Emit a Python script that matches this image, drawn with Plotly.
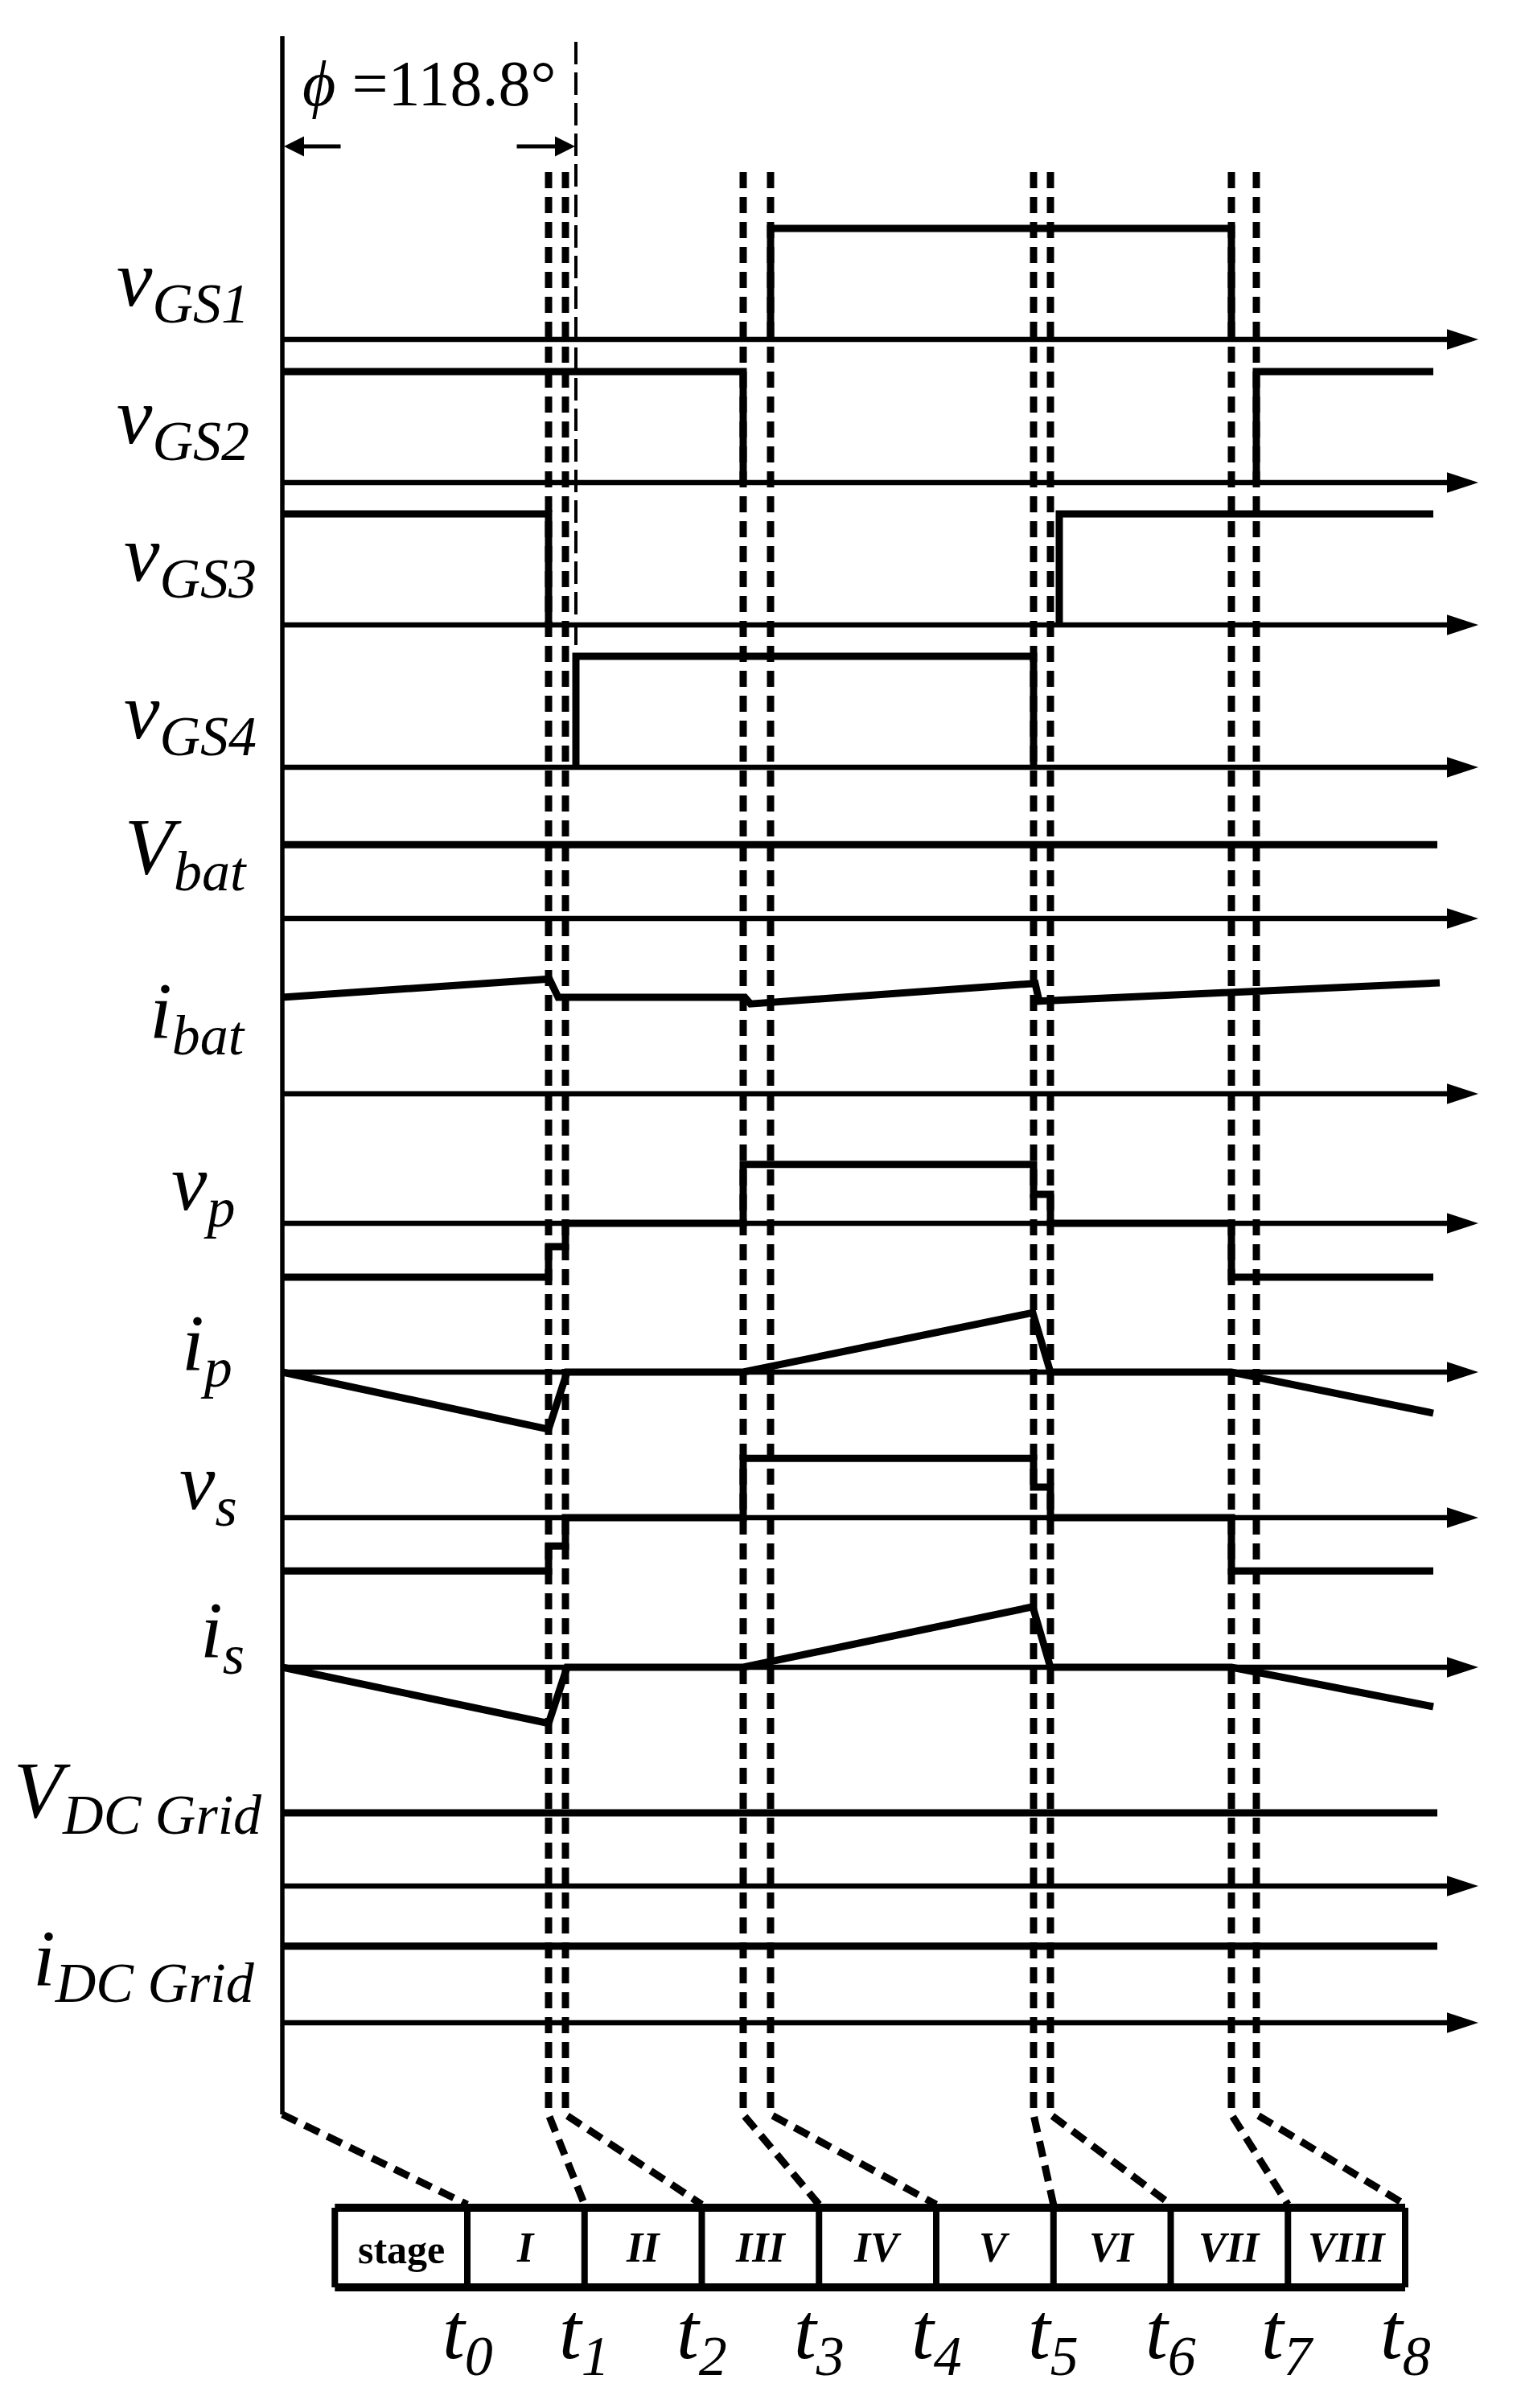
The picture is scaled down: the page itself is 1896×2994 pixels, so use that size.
import plotly.graph_objects as go

# ---------------- chart values ----------------
# time axis in arbitrary units, t = 0 at the vertical axis
T_AXIS_END = 1487      # tip of every time arrow

# switching instants marked by the thick dashed lines (feed t1 .. t8)
t_dashed = [331, 352, 573, 607, 934, 955, 1180, 1211]
t_phi = 365            # phase-shift marker (thin dashed line)
phi_text = " =118.8°"

# gate signals: low level coincides with the axis (None = pen up)
vgs1_t = [607, 607, 1180, 1180]
vgs1_v = [0, 2, 2, 0]
vgs2_t = [0, 573, 573, None, 1211, 1211, 1431]
vgs2_v = [2, 2, 0, None, 0, 2, 2]
vgs3_t = [0, 331, 331, None, 966, 966, 1431]
vgs3_v = [2, 2, 0, None, 0, 2, 2]
vgs4_t = [365, 365, 934, 934]
vgs4_v = [0, 2, 2, 0]

vbat_t = [0, 1436]
vbat_v = [1.33, 1.33]
ibat_t = [0, 332, 343, 575, 582, 936, 941, 1439]
ibat_v = [1.74, 2.07, 1.74, 1.74, 1.62, 1.99, 1.67, 2.00]

vp_t = [0, 331, 331, 352, 352, 573, 573, 934, 934, 955, 955, 1180, 1180, 1431]
vp_v = [-0.97, -0.97, -0.42, -0.42, 0, 0, 1.06, 1.06, 0.52, 0.52, 0, 0, -0.97, -0.97]
ip_t = [0, 331, 354, 573, 933, 955, 1180, 1431]
ip_v = [0, -1.03, 0, 0, 1.07, 0, 0, -0.74]
vs_t = [0, 331, 331, 352, 352, 573, 573, 934, 934, 955, 955, 1180, 1180, 1431]
vs_v = [-0.96, -0.96, -0.51, -0.51, 0, 0, 1.07, 1.07, 0.55, 0.55, 0, 0, -0.96, -0.96]
is_t = [0, 331, 354, 573, 933, 955, 1180, 1431]
is_v = [0, -1.01, 0, 0, 1.09, 0, 0, -0.71]

vdc_t = [0, 1436]
vdc_v = [1.32, 1.32]
idc_t = [0, 1436]
idc_v = [1.38, 1.38]

row_labels = [
    "<i>v</i><sub><i>GS1</i></sub>",
    "<i>v</i><sub><i>GS2</i></sub>",
    "<i>v</i><sub><i>GS3</i></sub>",
    "<i>v</i><sub><i>GS4</i></sub>",
    "<i>V</i><sub><i>bat</i></sub>",
    "<i>i</i><sub><i>bat</i></sub>",
    "<i>v</i><sub><i>p</i></sub>",
    "<i>i</i><sub><i>p</i></sub>",
    "<i>v</i><sub><i>s</i></sub>",
    "<i>i</i><sub><i>s</i></sub>",
    "<i>V</i><sub><i>DC Grid</i></sub>",
    "<i>i</i><sub><i>DC Grid</i></sub>",
]
row_series = [
    (vgs1_t, vgs1_v), (vgs2_t, vgs2_v), (vgs3_t, vgs3_v), (vgs4_t, vgs4_v),
    (vbat_t, vbat_v), (ibat_t, ibat_v), (vp_t, vp_v), (ip_t, ip_v),
    (vs_t, vs_v), (is_t, is_v), (vdc_t, vdc_v), (idc_t, idc_v),
]
stage_names = ["I", "II", "III", "IV", "V", "VI", "VII", "VIII"]
stage_header = "stage"
t_names = [f"<i>t<sub>{k}</sub></i>" for k in range(9)]

# ---------------- layout constants ----------------
W, H = 1896, 2994
FONT = "Liberation Serif, Times New Roman, serif"
X_ORIGIN_PX = 351
Y_UNIT_PX = 69
ROW_SPAN = 2.5
ROW_BASE_PX = [422, 600, 777, 954, 1142, 1360, 1521, 1706, 1887, 2073, 2345, 2515]
LABEL_RIGHT_PX = [312, 312, 321, 321, 309, 307, 294, 291, 297, 306, 328, 319]
LABEL_BASE_PX = [381, 552, 723, 919, 1087, 1291, 1505, 1704, 1877, 2061, 2260, 2469]
AXIS_TOP_PX = 45
FAN_PX = 2629
DASH_TOP_PX = 214
PHI_TOP_PX = 52
PHI_BOT_PX = 811
PHI_ARROW_PX = 182
BOX_TOP_PX = 2745
BOX_BOT_PX = 2844
STAGE_X0_PX = 581
STAGE_W_PX = 145.75
HEADER_W = 1.13
T_LABEL_BASE_PX = 2933

SIG_W = 9
AXIS_W = 6.5
DASH = "20px,11px"

time_range = [-X_ORIGIN_PX, W - X_ORIGIN_PX]
stage_range = [-STAGE_X0_PX / STAGE_W_PX, (W - STAGE_X0_PX) / STAGE_W_PX]


def stage_to_time(k):
    # both x axes span the full width: map through their ranges
    frac = (k - stage_range[0]) / (stage_range[1] - stage_range[0])
    return time_range[0] + frac * (time_range[1] - time_range[0])


fig = go.Figure()
OV = "y13"  # overlay axis in pixel rows

layout_axes = {}
for i, base in enumerate(ROW_BASE_PX):
    half = ROW_SPAN * Y_UNIT_PX
    dom = [(H - base - half) / H, (H - base + half) / H]
    key = "yaxis" if i == 0 else f"yaxis{i + 1}"
    layout_axes[key] = dict(domain=dom, range=[-ROW_SPAN, ROW_SPAN], visible=False,
                            anchor="x", fixedrange=True)
layout_axes["yaxis13"] = dict(domain=[0, 1], range=[H, 0], visible=False, anchor="x")

for i, (ts, vs_) in enumerate(row_series):
    ya = "y" if i == 0 else f"y{i + 1}"
    # time axis line with arrow
    fig.add_trace(go.Scatter(x=[0, T_AXIS_END - 25], y=[0, 0], yaxis=ya, mode="lines",
                             line=dict(color="black", width=AXIS_W), hoverinfo="skip",
                             showlegend=False))
    fig.add_trace(go.Scatter(x=[T_AXIS_END], y=[0], yaxis=ya, mode="markers",
                             marker=dict(symbol="arrow", angle=90, size=41, color="black",
                                         line=dict(width=0)),
                             hoverinfo="skip", showlegend=False))
    # waveform
    fig.add_trace(go.Scatter(x=ts, y=vs_, yaxis=ya, mode="lines", connectgaps=False,
                             line=dict(color="black", width=SIG_W), hoverinfo="skip",
                             showlegend=False))

# vertical axis
fig.add_trace(go.Scatter(x=[0, 0], y=[AXIS_TOP_PX, FAN_PX], yaxis=OV, mode="lines",
                         line=dict(color="black", width=5.5), hoverinfo="skip",
                         showlegend=False))
# fan from vertical axis to t0
fig.add_trace(go.Scatter(x=[0, stage_to_time(0)], y=[FAN_PX, BOX_TOP_PX - 4], yaxis=OV,
                         mode="lines", line=dict(color="black", width=SIG_W, dash=DASH),
                         hoverinfo="skip", showlegend=False))
# dashed switching markers and their fans to t1..t8
for k, t in enumerate(t_dashed):
    fig.add_trace(go.Scatter(x=[t, t, stage_to_time(k + 1)],
                             y=[DASH_TOP_PX, FAN_PX, BOX_TOP_PX - 4], yaxis=OV,
                             mode="lines", line=dict(color="black", width=SIG_W, dash=DASH),
                             hoverinfo="skip", showlegend=False))
# thin phase-shift marker
fig.add_trace(go.Scatter(x=[t_phi, t_phi], y=[PHI_TOP_PX, PHI_BOT_PX], yaxis=OV,
                         mode="lines", line=dict(color="black", width=4, dash="28px,10px"),
                         hoverinfo="skip", showlegend=False))

# stage table
edges = [-HEADER_W] + list(range(len(stage_names) + 1))
for yy in (BOX_TOP_PX, BOX_BOT_PX):
    fig.add_trace(go.Scatter(x=[edges[0], edges[-1]], y=[yy, yy], xaxis="x2", yaxis=OV,
                             mode="lines", line=dict(color="black", width=10),
                             hoverinfo="skip", showlegend=False))
for e in edges:
    fig.add_trace(go.Scatter(x=[e, e], y=[BOX_TOP_PX, BOX_BOT_PX], xaxis="x2", yaxis=OV,
                             mode="lines", line=dict(color="black", width=8),
                             hoverinfo="skip", showlegend=False))

ann = []
ann.append(dict(x=-HEADER_W / 2, y=BOX_TOP_PX / 2 + BOX_BOT_PX / 2 + 2, xref="x2", yref=OV,
                text=f"<b>{stage_header}</b>", showarrow=False,
                font=dict(family=FONT, size=50, color="black"),
                xanchor="center", yanchor="middle"))
for k, name in enumerate(stage_names):
    ann.append(dict(x=k + 0.5, y=BOX_TOP_PX / 2 + BOX_BOT_PX / 2, xref="x2", yref=OV,
                    text=f"<b><i>{name}</i></b>", showarrow=False,
                    font=dict(family=FONT, size=52, color="black"),
                    xanchor="center", yanchor="middle"))
for k, name in enumerate(t_names):
    ann.append(dict(x=k, y=T_LABEL_BASE_PX + 37, xref="x2", yref=OV, text=name,
                    showarrow=False, font=dict(family=FONT, size=100, color="black"),
                    xanchor="center", yanchor="bottom"))
for lab, xr, yb in zip(row_labels, LABEL_RIGHT_PX, LABEL_BASE_PX):
    ann.append(dict(x=xr / W, y=yb + 37, xref="paper", yref=OV, text=lab,
                    showarrow=False, font=dict(family=FONT, size=100, color="black"),
                    xanchor="right", yanchor="bottom"))
# phase-shift annotation
ann.append(dict(x=t_phi / 2, y=104, xref="x", yref=OV, text="<i>ϕ</i>" + phi_text,
                showarrow=False, font=dict(family=FONT, size=80, color="black"),
                xanchor="center", yanchor="middle"))
ann.append(dict(x=2, y=PHI_ARROW_PX, ax=74, ay=PHI_ARROW_PX, xref="x", yref=OV,
                axref="x", ayref=OV, text="", showarrow=True, arrowhead=2,
                arrowwidth=5, arrowsize=1, arrowcolor="black"))
ann.append(dict(x=t_phi - 1, y=PHI_ARROW_PX, ax=290, ay=PHI_ARROW_PX, xref="x", yref=OV,
                axref="x", ayref=OV, text="", showarrow=True, arrowhead=2,
                arrowwidth=5, arrowsize=1, arrowcolor="black"))

fig.update_layout(
    width=W, height=H,
    margin=dict(l=0, r=0, t=0, b=0, pad=0),
    paper_bgcolor="white", plot_bgcolor="rgba(0,0,0,0)",
    showlegend=False,
    xaxis=dict(domain=[0, 1], range=time_range, visible=False, anchor="y13"),
    xaxis2=dict(domain=[0, 1], range=stage_range, visible=False, anchor="y13"),
    annotations=ann,
    **layout_axes,
)

fig.write_html("out.html", config={"displayModeBar": False},
               post_script="document.body.style.margin='0px';")
